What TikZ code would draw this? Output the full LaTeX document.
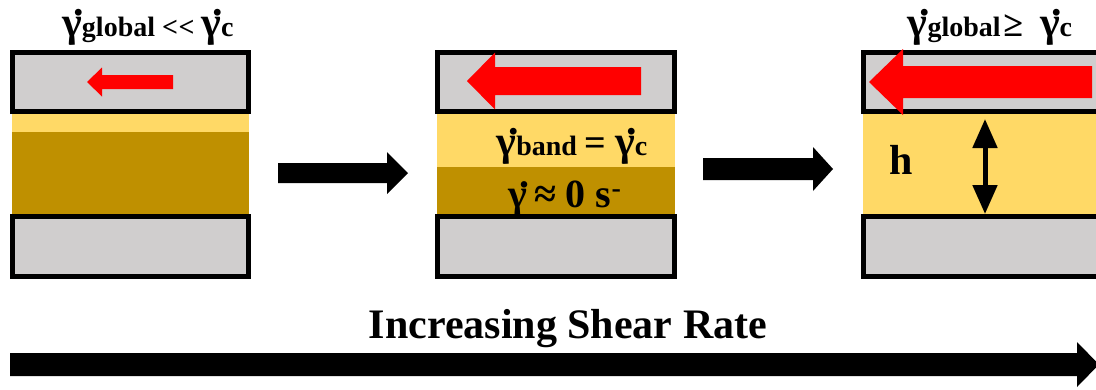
\documentclass[tikz,border=0pt]{standalone}
\usepackage{fontspec}
\setmainfont{Liberation Serif}
\usetikzlibrary{arrows.meta}

\definecolor{plategray}{RGB}{208,206,206}
\definecolor{gellight}{RGB}{255,217,102}
\definecolor{geldark}{RGB}{191,144,0}

\newcommand{\fsz}[1]{\fontsize{#1}{#1}\selectfont}
\newcommand{\gdot}{\makebox[0pt][l]{\hspace{0.27em}\raisebox{0.5em}{.}}γ}

\begin{document}
\begin{tikzpicture}[x=1pt, y=-1pt, font=\bfseries,
    plate/.style={draw=black, line width=5pt, fill=plategray},
    shear/.style={fill=red},
    blockarrow/.style={fill=black}]

    \useasboundingbox (0,0) rectangle (1096,389);
    \clip (0,0) rectangle (1096,389);

    % 1. Gel layers
    \fill[gellight] (12,114) rectangle (249,132);
    \fill[geldark] (12,132) rectangle (249,214);
    \fill[gellight] (437,114) rectangle (675,167);
    \fill[geldark] (437,167) rectangle (675,214);
    \fill[gellight] (863,114) rectangle (1110,214);

    % 2. Plates
    \foreach \l/\r in {12.5/248.5, 437.5/674.5, 863.5/1120}{
        \draw[plate] (\l,52.5) rectangle (\r,111.5);
        \draw[plate] (\l,216.5) rectangle (\r,276.5);
    }

    % 3. Shear arrows on the top plate
    \fill[shear] (87,82) -- (102,67.5) -- (102,75) -- (173,75) -- (173,89) -- (102,89) -- (102,96.5) -- cycle;
    \fill[shear] (467,81) -- (495,52.5) -- (495,67) -- (641,67) -- (641,95) -- (495,95) -- (495,109.5) -- cycle;
    \fill[shear] (869,82) -- (903,49) -- (903,66) -- (1092,66) -- (1092,98) -- (903,98) -- (903,115) -- cycle;

    % 4. Black block arrows
    \fill[blockarrow] (278,163) -- (387,163) -- (387,152) -- (408,173) -- (387,194) -- (387,183) -- (278,183) -- cycle;
    \fill[blockarrow] (703,158) -- (813,158) -- (813,147) -- (833,169) -- (813,191) -- (813,180) -- (703,180) -- cycle;
    \fill[blockarrow] (10,353) -- (1077,353) -- (1077,342) -- (1099,364.5) -- (1077,387) -- (1077,376) -- (10,376) -- cycle;

    % 5. Gap height
    \coordinate (gaptop) at (985,119);
    \coordinate (gapbot) at (985,214);
    \draw[line width=5pt, {Triangle[length=29pt,width=24pt]}-{Triangle[length=29pt,width=24pt]}] (gaptop) -- (gapbot);
    \node (hlabel) at (901,160) {\fsz{42}h};

    % 6. Labels
    \node[anchor=base] (title1) at (148,36) {\fsz{42}\gdot\fsz{28}global <\kern0.02em< \fsz{42}\gdot\fsz{28}c};
    \node[anchor=base] (title3) at (990,36) {\fsz{42}\gdot\fsz{28}global\kern0.1em{\fsz{36}≥}\hspace{0.6em}\fsz{42}\gdot\fsz{28}c};
    \node[anchor=base] (band) at (572,155) {\fsz{42}\gdot\fsz{28}band \fsz{38}= \fsz{42}\gdot\fsz{28}c};
    \node[anchor=base] (rest) at (565,207) {\fsz{40}\gdot\,≈ 0 s\textsuperscript{-}};
    \node[anchor=base] (rate) at (568,338) {\fsz{42}Increasing Shear Rate};

\end{tikzpicture}
\end{document}
